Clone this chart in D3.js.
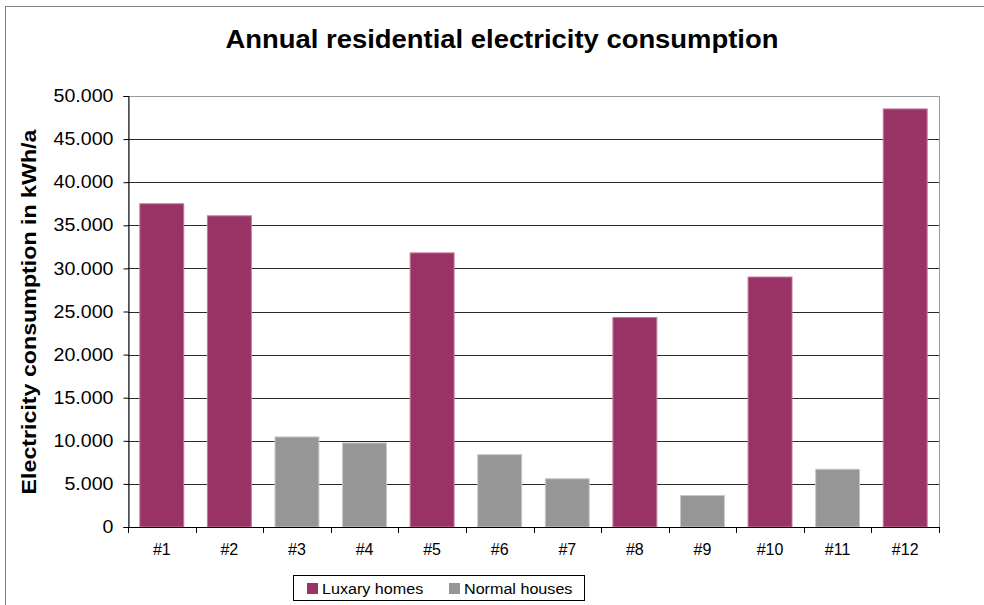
<!DOCTYPE html>
<html>
<head>
<meta charset="utf-8">
<script src="https://cdn.jsdelivr.net/npm/d3@7"></script>
<style>
  body { margin: 0; background: #fff; }
  text { font-family: "Liberation Sans", Arial, sans-serif; fill: #000; }
</style>
</head>
<body>
<svg id="chart" width="984" height="605"></svg>
<script>
// data
const houses = ['#1', '#2', '#3', '#4', '#5', '#6', '#7', '#8', '#9', '#10', '#11', '#12'];
const consumption = [37500, 36100, 10450, 9750, 31800, 8400, 5600, 24300, 3650, 29000, 6700, 48500];
const houseType = ['Luxary homes', 'Luxary homes', 'Normal houses', 'Normal houses', 'Luxary homes',
  'Normal houses', 'Normal houses', 'Luxary homes', 'Normal houses', 'Luxary homes', 'Normal houses', 'Luxary homes'];
const seriesNames = ['Luxary homes', 'Normal houses'];
const yTicks = [0, 5000, 10000, 15000, 20000, 25000, 30000, 35000, 40000, 45000, 50000];

const svg = d3.select('#chart');
const plot = { left: 128, right: 939, top: 96, bottom: 527 };

const color = d3.scaleOrdinal().domain(seriesNames).range(['#993366', '#969696']);

// stretch text a bit wider, the source font was rendered wide
function stretch(sel, k) {
  sel.each(function () {
    const w = this.getComputedTextLength();
    d3.select(this).attr('textLength', w * k).attr('lengthAdjust', 'spacingAndGlyphs');
  });
}

// outer chart frame
svg.append('rect')
  .attr('x', 5.5).attr('y', 6.5)
  .attr('width', 1000).attr('height', 700)
  .attr('fill', 'none').attr('stroke', '#808080');

const x = d3.scaleBand()
  .domain(houses)
  .range([plot.left, plot.right])
  .paddingInner(0.35)
  .paddingOuter(0.175);

const y = d3.scaleLinear()
  .domain([0, 50000])
  .range([plot.bottom, plot.top]);

// plot area border (top / right)
svg.append('rect')
  .attr('x', plot.left + 0.5).attr('y', plot.top + 0.5)
  .attr('width', plot.right - plot.left).attr('height', plot.bottom - plot.top)
  .attr('fill', 'none').attr('stroke', '#9a9a9a');

// gridlines
svg.append('g')
  .selectAll('line')
  .data(yTicks.filter(d => d > 0 && d < 50000))
  .join('line')
  .attr('x1', plot.left).attr('x2', plot.right)
  .attr('y1', d => Math.round(y(d)) + 0.5).attr('y2', d => Math.round(y(d)) + 0.5)
  .attr('stroke', '#2a2a2a');

// bars
svg.append('g')
  .selectAll('rect')
  .data(houses)
  .join('rect')
  .attr('x', d => x(d))
  .attr('y', (d, i) => y(consumption[i]))
  .attr('width', x.bandwidth())
  .attr('height', (d, i) => y(0) - y(consumption[i]))
  .attr('fill', (d, i) => color(houseType[i]))
  .attr('stroke', (d, i) => houseType[i] === 'Luxary homes' ? '#c27a9e' : '#c8c8c8')
  .attr('stroke-width', 1);

// y axis
const yAxis = svg.append('g')
  .attr('transform', `translate(${plot.left + 0.5},0)`)
  .call(d3.axisLeft(y).tickValues(yTicks).tickSize(5).tickPadding(10)
    .tickFormat(d => d3.format(',')(d).replace(/,/g, '.')));
yAxis.select('.domain').attr('stroke', '#000');
yAxis.selectAll('.tick line').attr('stroke', '#000');
yAxis.selectAll('text').attr('font-size', 17.5).attr('fill', '#000')
  .attr('font-family', '"Liberation Sans", Arial, sans-serif');
stretch(yAxis.selectAll('text'), 1.12);

// x axis with ticks at category boundaries
const xAxisG = svg.append('g');
xAxisG.append('line')
  .attr('x1', plot.left).attr('x2', plot.right + 1)
  .attr('y1', plot.bottom + 0.5).attr('y2', plot.bottom + 0.5)
  .attr('stroke', '#000');
const step = x.step();
xAxisG.selectAll('line.tk')
  .data(d3.range(houses.length + 1))
  .join('line')
  .attr('class', 'tk')
  .attr('x1', i => Math.round(plot.left + i * step) + 0.5)
  .attr('x2', i => Math.round(plot.left + i * step) + 0.5)
  .attr('y1', plot.bottom).attr('y2', plot.bottom + 6)
  .attr('stroke', '#000');
xAxisG.selectAll('text')
  .data(houses)
  .join('text')
  .attr('x', d => x(d) + x.bandwidth() / 2)
  .attr('y', plot.bottom + 28)
  .attr('text-anchor', 'middle')
  .attr('font-size', 16)
  .text(d => d);

// title
const title = svg.append('text')
  .attr('x', 502).attr('y', 48)
  .attr('text-anchor', 'middle')
  .attr('font-size', 25.5)
  .attr('font-weight', 'bold')
  .text('Annual residential electricity consumption');
stretch(title, 1.075);

// y axis title
const yTitle = svg.append('text')
  .attr('transform', 'translate(36,312) rotate(-90)')
  .attr('text-anchor', 'middle')
  .attr('font-size', 19.5)
  .attr('font-weight', 'bold')
  .text('Electricity consumption in kWh/a');
stretch(yTitle, 1.19);

// legend
const legend = svg.append('g').attr('transform', 'translate(293,575)');
legend.append('rect')
  .attr('x', 0.5).attr('y', 0.5).attr('width', 291).attr('height', 25)
  .attr('fill', '#fff').attr('stroke', '#000');
const legendX = [14, 156];
const items = legend.selectAll('g.item')
  .data(seriesNames)
  .join('g')
  .attr('class', 'item')
  .attr('transform', (d, i) => `translate(${legendX[i]},0)`);
items.append('rect')
  .attr('x', 0).attr('y', 8).attr('width', 11).attr('height', 11)
  .attr('fill', d => color(d));
items.append('text')
  .attr('x', 15).attr('y', 19)
  .attr('font-size', 15.5)
  .text(d => d);
stretch(items.selectAll('text'), 1.04);
</script>
</body>
</html>
